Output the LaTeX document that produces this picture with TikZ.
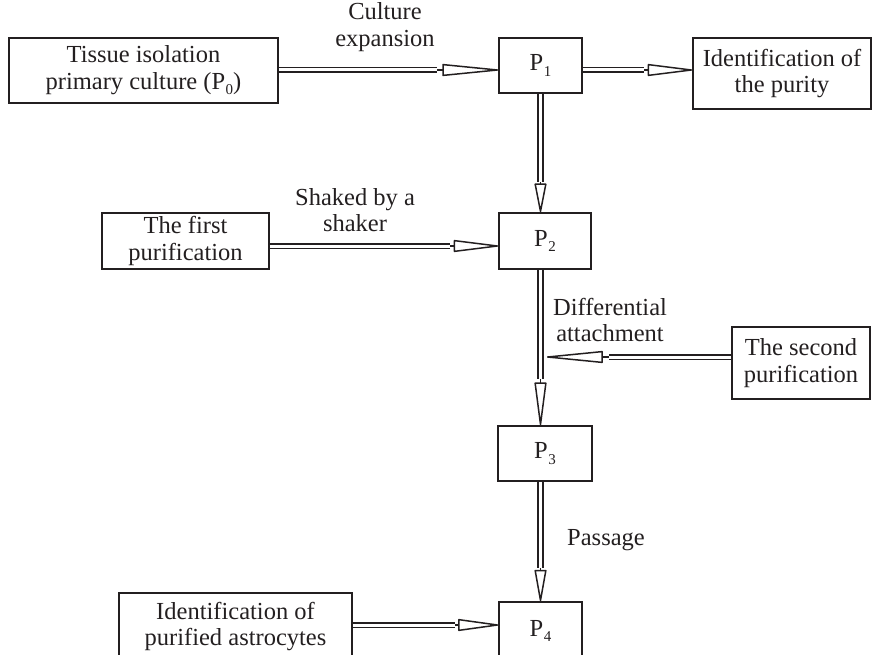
\documentclass[tikz,border=0pt]{standalone}
\usepackage{fontspec}
\setmainfont{Liberation Serif}
\usetikzlibrary{arrows.meta,calc}
\definecolor{ink}{HTML}{231F20}
\newcommand\psub[1]{\kern0.5pt\raisebox{-0.5ex}{\fontsize{15}{15}\selectfont #1}}
\begin{document}
\begin{tikzpicture}[x=1pt,y=-1pt,
  every node/.style={font=\fontsize{24.5}{26.5}\selectfont, align=center, inner sep=0pt, text=ink},
  box/.style={draw=ink, line width=1.7pt},
  shaft/.style={draw=ink, line width=1.7pt, double=white, double distance=3pt},
  head/.style={draw=ink, line width=1.5pt, -{Triangle[open, round, length=#1, width=12pt, line width=1.5pt]}}]
\useasboundingbox (0,0) rectangle (872,655);
% boxes
\node[box, minimum width=269pt, minimum height=65pt] (tissue) at (143.5,70.5) {Tissue isolation\\primary culture (P\psub{0})};
\node[box, minimum width=83pt, minimum height=55pt] (p1) at (540.5,65.5) {P\psub{1}};
\node[box, minimum width=178pt, minimum height=71pt] (purity) at (782,73.5) {Identification of\\the purity};
\node[box, minimum width=167pt, minimum height=56pt] (first) at (185.5,241) {The first\\purification};
\node[box, minimum width=92pt, minimum height=56pt] (p2) at (545,241) {P\psub{2}};
\node[box, minimum width=138pt, minimum height=72pt] (second) at (801,363) {The second\\purification};
\node[box, minimum width=94pt, minimum height=55pt] (p3) at (545,453.5) {P\psub{3}};
\node[box, minimum width=83pt, minimum height=58pt] (p4) at (540.5,631) {P\psub{4}};
\node[box, minimum width=233pt, minimum height=67pt] (astro) at (235.5,626.5) {Identification of\\purified astrocytes};
% labels
\node (lce) at (385,27) {Culture\\expansion};
\node (lsh) at (355,210) {Shaked by a\\shaker};
\node (lda) at (610,320) {Differential\\attachment};
\node (lpa) at (606,540) {Passage};
% connector end points
\coordinate (a1s) at (tissue.east |- 0,70);
\coordinate (a1e) at (p1.west |- 0,70);
\coordinate (a2s) at (p1.east |- 0,70);
\coordinate (a2e) at (purity.west |- 0,70);
\coordinate (a3s) at (p1.south);
\coordinate (a3e) at (p2.north -| p1.south);
\coordinate (a4s) at (p2.south -| p1.south);
\coordinate (a4e) at (p3.north -| p1.south);
\coordinate (a5s) at (p3.south -| p1.south);
\coordinate (a5e) at (p4.north);
\coordinate (a6s) at (first.east |- 0,246);
\coordinate (a6e) at (p2.west |- 0,246);
\coordinate (a7s) at (second.west |- 0,357);
\coordinate (join) at (547,357);
\coordinate (a8s) at (astro.east |- 0,625);
\coordinate (a8e) at (p4.west |- 0,625);
% connectors: head first, then the double shaft over it
\newcommand\dblarrow[3]{%
  \draw[head=#1] ($(#3)!#1+20pt!(#2)$) -- (#3);
  \draw[shaft, shorten >=#1-1.5pt] (#2) -- (#3);}
\dblarrow{63pt}{a1s}{a1e}
\dblarrow{50pt}{a2s}{a2e}
\dblarrow{32pt}{a3s}{a3e}
\dblarrow{48pt}{a4s}{a4e}
\dblarrow{35pt}{a5s}{a5e}
\dblarrow{50pt}{a6s}{a6e}
\dblarrow{63pt}{a7s}{join}
\dblarrow{45pt}{a8s}{a8e}
\end{tikzpicture}
\end{document}
